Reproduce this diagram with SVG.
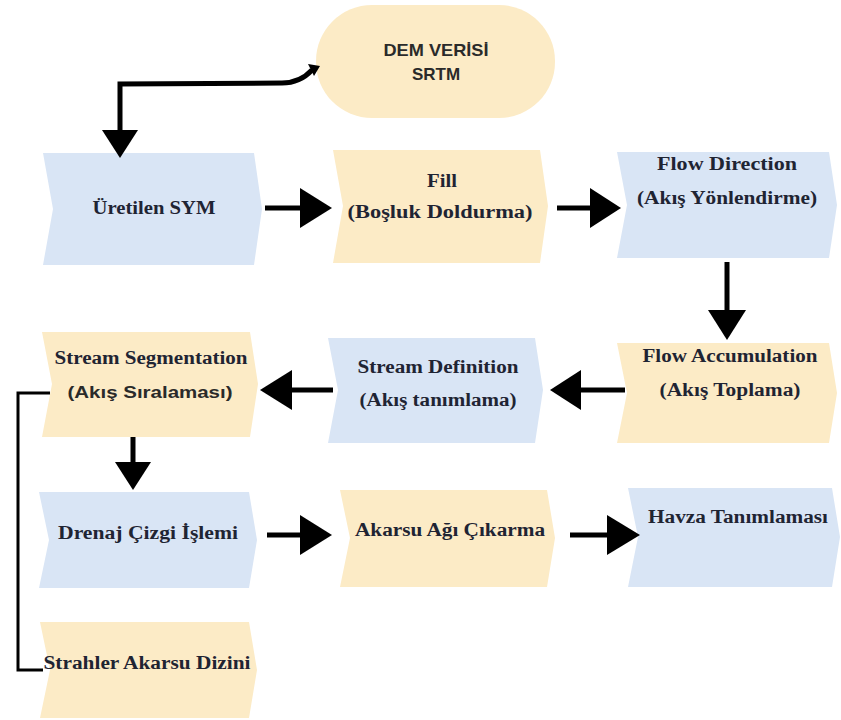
<svg xmlns="http://www.w3.org/2000/svg" width="841" height="720" viewBox="0 0 841 720">
<style>
.blue{fill:#d9e5f5}
.yel{fill:#fcebc6}
.t{font-family:"Liberation Serif","Times New Roman",serif;font-weight:bold;font-size:18px;fill:#1f2433;text-anchor:middle}
.s{font-family:"Liberation Sans",Arial,sans-serif;font-weight:bold;font-size:17px;fill:#2a2a2a;text-anchor:middle}
.ln{stroke:#000;stroke-width:5;fill:none}
.hd{fill:#000}
</style>
<rect width="841" height="720" fill="#ffffff"/>

<g id="dem">
<rect x="316" y="5" width="239" height="113" rx="56" class="yel"/>
<text class="s" x="436" y="56" textLength="105" lengthAdjust="spacingAndGlyphs">DEM VERİSİ</text>
<text class="s" x="436" y="80">SRTM</text>
</g>

<g id="uretilen">
<path class="blue" d="M43 153 L254 153 L262 209 L254 265 L43 265 L53 209 Z"/>
<text class="t" x="154" y="214" textLength="123" lengthAdjust="spacingAndGlyphs">Üretilen SYM</text>
</g>

<g id="fill">
<path class="yel" d="M333 150 L540 150 L548 206 L540 263 L333 263 L343 206 Z"/>
<text class="t" x="442" y="187" textLength="30" lengthAdjust="spacingAndGlyphs">Fill</text>
<text class="t" x="440" y="218" textLength="185" lengthAdjust="spacingAndGlyphs">(Boşluk Doldurma)</text>
</g>

<g id="flowdir">
<path class="blue" d="M617 152 L829 152 L837 205 L829 258 L617 258 L627 205 Z"/>
<text class="t" x="727" y="170" textLength="140" lengthAdjust="spacingAndGlyphs">Flow Direction</text>
<text class="t" x="727" y="204" textLength="180" lengthAdjust="spacingAndGlyphs">(Akış Yönlendirme)</text>
</g>

<g id="flowacc">
<path class="yel" d="M617 343 L829 343 L837 393 L829 443 L617 443 L627 393 Z"/>
<text class="t" x="730" y="362" textLength="175" lengthAdjust="spacingAndGlyphs">Flow Accumulation</text>
<text class="t" x="730" y="396" textLength="141" lengthAdjust="spacingAndGlyphs">(Akış Toplama)</text>
</g>

<g id="streamdef">
<path class="blue" d="M328 338 L535 338 L543 390 L535 443 L328 443 L338 390 Z"/>
<text class="t" x="438" y="373" textLength="161" lengthAdjust="spacingAndGlyphs">Stream Definition</text>
<text class="t" x="438" y="406" textLength="157" lengthAdjust="spacingAndGlyphs">(Akış tanımlama)</text>
</g>

<g id="streamseg">
<path class="yel" d="M42 332 L250 332 L258 384 L250 437 L42 437 L52 384 Z"/>
<text class="t" x="151" y="364" textLength="193" lengthAdjust="spacingAndGlyphs">Stream Segmentation</text>
<text class="s" x="150" y="398" textLength="165" lengthAdjust="spacingAndGlyphs">(Akış Sıralaması)</text>
</g>

<g id="drenaj">
<path class="blue" d="M39 492 L249 492 L257 540 L249 588 L39 588 L49 540 Z"/>
<text class="t" x="148" y="539" textLength="180" lengthAdjust="spacingAndGlyphs">Drenaj Çizgi İşlemi</text>
</g>

<g id="akarsu">
<path class="yel" d="M340 490 L547 490 L555 538 L547 587 L340 587 L350 538 Z"/>
<text class="t" x="450" y="536" textLength="190" lengthAdjust="spacingAndGlyphs">Akarsu Ağı Çıkarma</text>
</g>

<g id="havza">
<path class="blue" d="M628 488 L832 488 L840 537 L832 587 L628 587 L638 537 Z"/>
<text class="t" x="738" y="523" textLength="180" lengthAdjust="spacingAndGlyphs">Havza Tanımlaması</text>
</g>

<g id="strahler">
<path class="yel" d="M40 622 L249 622 L257 670 L249 718 L40 718 L50 670 Z"/>
<text class="t" x="147" y="669" textLength="207" lengthAdjust="spacingAndGlyphs">Strahler Akarsu Dizini</text>
</g>

<g id="connectors">
<path class="ln" d="M312 70 Q300 83 282 83 L120 84 L120 132"/>
<path class="hd" d="M308 64 L320 66 L314 76 Z"/>
<path class="hd" d="M102 130 L138 130 L120 158 Z"/>

<path class="ln" d="M265 208 L302 208"/>
<path class="hd" d="M300 188 L332 208 L300 228 Z"/>

<path class="ln" d="M557 208 L592 208"/>
<path class="hd" d="M590 188 L621 208 L590 228 Z"/>

<path class="ln" d="M727 262 L727 312"/>
<path class="hd" d="M708 310 L746 310 L727 340 Z"/>

<path class="ln" d="M625 390 L578 390"/>
<path class="hd" d="M581 370 L550 390 L581 410 Z"/>

<path class="ln" d="M333 390 L290 390"/>
<path class="hd" d="M292 370 L260 390 L292 410 Z"/>

<path class="ln" d="M133 437 L133 464"/>
<path class="hd" d="M115 462 L151 462 L133 490 Z"/>

<path class="ln" d="M267 535 L302 535"/>
<path class="hd" d="M300 515 L332 535 L300 555 Z"/>

<path class="ln" d="M570 535 L609 535"/>
<path class="hd" d="M607 515 L640 535 L607 555 Z"/>

<path d="M50 393 L18 393 L18 670 L43 670" fill="none" stroke="#000" stroke-width="3"/>
</g>
</svg>
